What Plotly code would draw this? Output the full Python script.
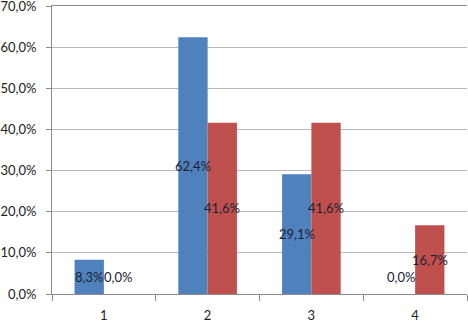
import plotly.graph_objects as go

categories = ["1", "2", "3", "4"]
series_a = [0.083, 0.624, 0.291, 0.0]
series_b = [0.0, 0.416, 0.416, 0.167]
label_a = ["8,3%", "62,4%", "29,1%", "0,0%"]
label_b = ["0,0%", "41,6%", "41,6%", "16,7%"]
y_ticks = [0, 0.1, 0.2, 0.3, 0.4, 0.5, 0.6, 0.7]
y_tick_labels = ["0,0%", "10,0%", "20,0%", "30,0%", "40,0%", "50,0%", "60,0%", "70,0%"]

BLUE = "#4F81BD"
RED = "#C0504D"
FONT = "Lato"

fig = go.Figure()
fig.add_trace(go.Bar(x=categories, y=series_a, marker=dict(color=BLUE, line=dict(width=0)), hoverinfo="skip"))
fig.add_trace(go.Bar(x=categories, y=series_b, marker=dict(color=RED, line=dict(width=0)), hoverinfo="skip"))

half_px = 14.6
min_label_y = 0.0415
annotations = []
for i, (v, t) in enumerate(zip(series_a, label_a)):
    annotations.append(dict(x=i, y=max(v / 2, min_label_y), text=t, xshift=-half_px,
                            showarrow=False, font=dict(family=FONT, size=13, color="#1b2233")))
for i, (v, t) in enumerate(zip(series_b, label_b)):
    annotations.append(dict(x=i, y=max(v / 2, min_label_y), text=t, xshift=half_px,
                            showarrow=False, font=dict(family=FONT, size=13, color="#1b2233")))

fig.update_layout(
    width=468, height=323,
    margin=dict(l=52, r=1, t=6, b=29),
    paper_bgcolor="white", plot_bgcolor="white",
    barmode="group", bargap=0.435, bargroupgap=0,
    showlegend=False,
    annotations=annotations,
    font=dict(family=FONT, size=13, color="#222"),
    xaxis=dict(type="category", tickson="boundaries", ticks="outside", ticklen=6,
               tickcolor="#8c8c8c", showline=True, linecolor="#8c8c8c", linewidth=1,
               mirror=True, showgrid=False, automargin=False, ticklabelstandoff=9,
               tickfont=dict(family=FONT, size=13, color="#222")),
    yaxis=dict(range=[0, 0.7], tickvals=y_ticks, ticktext=y_tick_labels, ticks="outside",
               ticklen=5, tickcolor="#8c8c8c", showline=True, linecolor="#8c8c8c", linewidth=1,
               showgrid=True, gridcolor="#b8b8b8", gridwidth=1, zeroline=False,
               ticklabeloverflow="allow", automargin=False, ticklabelstandoff=7,
               tickfont=dict(family=FONT, size=13, color="#222")),
)

fig.write_html("out.html", config={"displayModeBar": False},
               post_script="document.body.style.margin='0';document.body.style.overflow='hidden';")
